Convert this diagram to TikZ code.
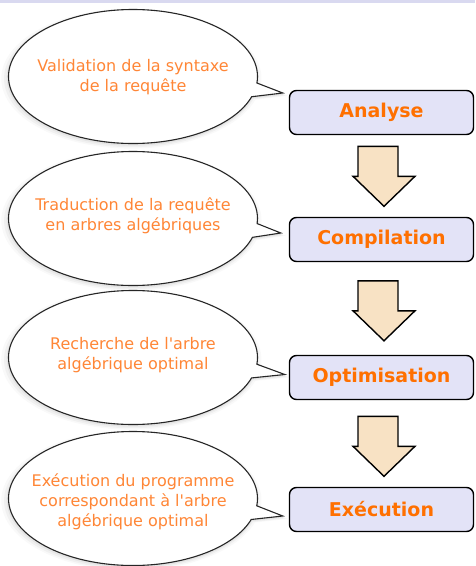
\documentclass[tikz,border=0pt]{standalone}
\usepackage{fontspec}
\setmainfont{DejaVu Sans}
\usetikzlibrary{shapes.callouts,shadows,calc}
\definecolor{boxfill}{HTML}{E3E3F7}
\definecolor{arrfill}{HTML}{F8E2C4}
\definecolor{boxtext}{HTML}{FF7000}
\definecolor{bubtext}{HTML}{FF8636}
\definecolor{band}{HTML}{D9D9F0}
\begin{document}
\begin{tikzpicture}[x=1pt,y=-1pt,
  stepbox/.style={draw=black, line width=1.4pt, fill=boxfill, rounded corners=7pt,
    minimum width=184pt, minimum height=44pt, inner sep=0pt,
    font=\fontsize{19}{22}\selectfont\bfseries, text=boxtext},
  bubble/.style={ellipse callout, draw=black!85, line width=1.1pt, fill=white,
    minimum width=249pt, minimum height=134pt, inner sep=0pt, callout pointer arc=12,
    drop shadow={opacity=0.05, shadow xshift=-1pt, shadow yshift=-2pt, shadow scale=1.045},
    drop shadow={opacity=0.07, shadow xshift=-1pt, shadow yshift=-2pt, shadow scale=1.025},
    drop shadow={opacity=0.10, shadow xshift=-0.5pt, shadow yshift=-1.5pt, shadow scale=1.01}},
  bubtxt/.style={align=center, text=bubtext, font=\fontsize{16}{20}\selectfont, inner sep=0pt},
  blockarrow/.style={draw=black, line width=1.4pt, fill=arrfill, line join=miter}
]
\useasboundingbox (0,0) rectangle (475,566);
\fill[band] (0,0) rectangle (475,3);

% process boxes
\node[stepbox] (an) at (381.5,112.5) {Analyse};
\node[stepbox] (cp) at (381.5,239.5) {Compilation};
\node[stepbox] (op) at (381.5,377.5) {Optimisation};
\node[stepbox] (ex) at (381.5,509.5) {Exécution};

% speech bubbles
\node[bubble, callout absolute pointer={($(an.west)+(-6,-19.5)$)}] (b1) at (133,76.5) {};
\node[bubble, callout absolute pointer={($(cp.west)+(-8,-6.5)$)}] (b2) at (133,218.5) {};
\node[bubble, callout absolute pointer={($(op.west)+(-4,-3)$)}] (b3) at (133,357.5) {};
\node[bubble, callout absolute pointer={($(ex.west)+(-6,6.5)$)}] (b4) at (133,498.5) {};

\node[bubtxt] (t1) at ($(b1.center)+(0,1)$) {Validation de la syntaxe\\de la requête};
\node[bubtxt] (t2) at ($(b2.center)+(0,-3)$) {Traduction de la requête\\en arbres algébriques};
\node[bubtxt] (t3) at ($(b3.center)+(0,-2)$) {Recherche de l\textquotesingle arbre\\algébrique optimal};
\node[bubtxt] (t4) at ($(b4.center)+(0,3)$) {Exécution du programme\\correspondant à l\textquotesingle arbre\\algébrique optimal};

% block arrows between boxes
\coordinate (a1) at ($(cp.north)+(2.5,-10.5)$);
\coordinate (a2) at ($(op.north)+(2.5,-14)$);
\coordinate (a3) at ($(ex.north)+(2.5,-10.5)$);
\foreach \t in {a1,a2,a3}{
  \draw[blockarrow] ($(\t)+(-26,-60)$) -- ($(\t)+(14,-60)$) -- ($(\t)+(14,-30)$)
    -- ($(\t)+(31,-30)$) -- (\t) -- ($(\t)+(-31,-30)$) -- ($(\t)+(-26,-30)$) -- cycle;
}
\end{tikzpicture}
\end{document}
